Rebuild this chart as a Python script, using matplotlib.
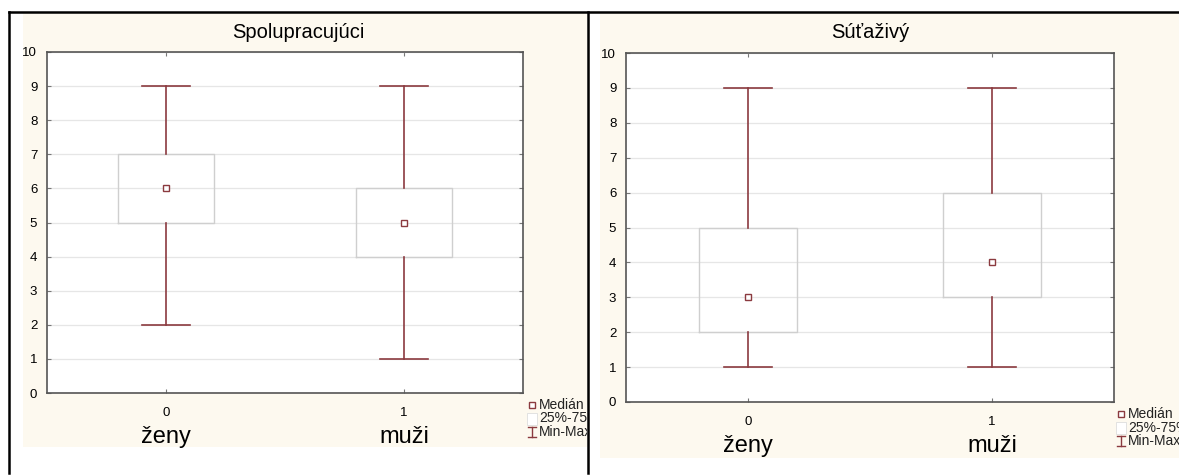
import matplotlib
matplotlib.use("Agg")
import matplotlib.pyplot as plt
from matplotlib.patches import Rectangle
from matplotlib.lines import Line2D
from matplotlib.transforms import Bbox

plt.rcParams['font.family'] = ['Liberation Sans', 'DejaVu Sans']

titles = ["Spolupracujúci", "Súťaživý"]
groups = ["ženy", "muži"]
group_codes = ["0", "1"]
# per chart, per group: min, q1, median, q3, max
mins = [[2, 1], [1, 1]]
q1s = [[5, 4], [2, 3]]
medians = [[6, 5], [3, 4]]
q3s = [[7, 6], [5, 6]]
maxs = [[9, 9], [9, 9]]
yticks = list(range(0, 11))
legend_labels = ["Medián", "25%-75%", "Min-Max"]

W, H = 1179, 475
fig = plt.figure(figsize=(W / 100, H / 100), dpi=100)
fig.patch.set_facecolor("white")

CREAM = "#fdf9ef"
MAROON = "#8b3a3f"
BOXGRAY = "#cfcfcf"
GRID = "#e6e6e6"

def px(x0, y0, x1, y1):
    return [x0 / W, 1 - y1 / H, (x1 - x0) / W, (y1 - y0) / H]

# cream panels
panels = [(23, 13, 587, 447), (600, 13, 1179, 458)]
for (x0, y0, x1, y1) in panels:
    fig.patches.append(Rectangle((x0 / W, 1 - y1 / H), (x1 - x0) / W, (y1 - y0) / H,
                                 transform=fig.transFigure, facecolor=CREAM,
                                 edgecolor="none", zorder=-10))

axes_px = [(47, 52, 523, 393), (626, 53, 1114, 402)]
title_x = [298, 870]
legend_pos = [(532, 405), (1121, 414)]

for i in range(2):
    ax = fig.add_axes(px(*axes_px[i]))
    ax.set_zorder(1)
    ax.set_facecolor("white")
    stats = []
    for j in range(2):
        stats.append(dict(whislo=mins[i][j], q1=q1s[i][j], med=medians[i][j],
                          q3=q3s[i][j], whishi=maxs[i][j], label=group_codes[j]))
    ax.bxp(stats, positions=[0, 1], widths=0.4, showfliers=False,
           boxprops=dict(color=BOXGRAY, linewidth=1.0),
           whiskerprops=dict(color=MAROON, linewidth=1.2),
           capprops=dict(color=MAROON, linewidth=1.2),
           medianprops=dict(linewidth=0), capwidths=0.2, zorder=3)
    ax.plot([0, 1], medians[i], linestyle="none", marker="s", markersize=4.5,
            markerfacecolor="white", markeredgecolor=MAROON, markeredgewidth=1.0, zorder=4)
    ax.set_xlim(-0.5, 1.5)
    ax.set_ylim(0, 10)
    ax.set_yticks(yticks)
    ax.set_yticklabels([str(t) for t in yticks], fontsize=9.5)
    ax.set_xticks([0, 1])
    ax.set_xticklabels(group_codes, fontsize=9.5)
    ax.yaxis.grid(True, color=GRID, linewidth=0.9)
    ax.set_axisbelow(True)
    ax.tick_params(direction="in", length=3, top=True, right=True, color="#777777",
                   width=0.8)
    ax.tick_params(axis="y", pad=7)
    ax.tick_params(axis="x", pad=10)
    for s in ax.spines.values():
        s.set_color("#555555")
        s.set_linewidth(1.2)
    fig.text(title_x[i] / W, 1 - 32 / H, titles[i], fontsize=14.5, ha="center", va="center")
    for j in range(2):
        ax.annotate(groups[j], xy=(j, 0), xycoords=("data", "axes fraction"),
                    xytext=(0, -44), textcoords="offset pixels",
                    ha="center", va="center", fontsize=17)
    # legend
    lx, ly = legend_pos[i]
    clip = Bbox.from_extents(0, 0, (587 if i == 0 else W), H)
    step = 13.5
    fig.lines.append(Line2D([lx / W], [1 - ly / H], transform=fig.transFigure,
                            marker="s", markersize=4, markerfacecolor="white",
                            markeredgecolor=MAROON, linestyle="none", zorder=5))
    fig.patches.append(Rectangle(((lx - 5) / W, 1 - (ly + step + 6) / H), 10 / W, 12 / H,
                                 transform=fig.transFigure, facecolor="white",
                                 edgecolor="#dddddd", linewidth=0.6, zorder=5))
    yb = ly + 2 * step
    for xs, ys in (([lx, lx], [yb - 5, yb + 5]),
                   ([lx - 4, lx + 4], [yb - 5, yb - 5]),
                   ([lx - 4, lx + 4], [yb + 5, yb + 5])):
        fig.lines.append(Line2D([x / W for x in xs], [1 - y / H for y in ys],
                                transform=fig.transFigure, color=MAROON, linewidth=1, zorder=5))
    for k, lab in enumerate(legend_labels):
        t = fig.text((lx + 7) / W, 1 - (ly + k * step) / H, lab, fontsize=10,
                     ha="left", va="center", color="#222222", zorder=5)
        t.set_clip_box(clip)
        t.set_clip_on(True)

# black frame lines
for xs, ys in (([9, 9], [12, 473]), ([588, 588], [12, 473]), ([9, W], [12, 12])):
    fig.lines.append(Line2D([x / W for x in xs], [1 - y / H for y in ys],
                            transform=fig.transFigure, color="black", linewidth=1.8, zorder=6))

fig.savefig("out.png", dpi=100, facecolor="white")
